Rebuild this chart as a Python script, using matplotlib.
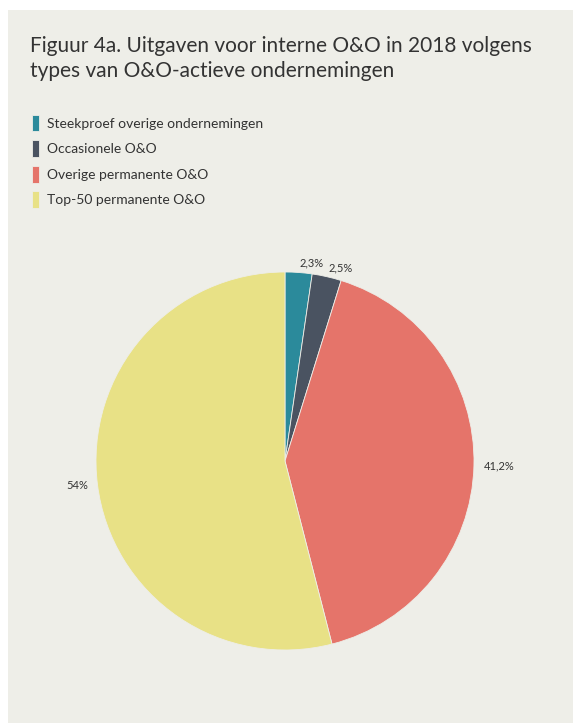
import matplotlib
matplotlib.use("Agg")
from matplotlib import pyplot as plt
from matplotlib.patches import Rectangle

plt.rcParams['font.family'] = ['Lato', 'DejaVu Sans']

# data
categories = ['Steekproef overige ondernemingen', 'Occasionele O&O',
              'Overige permanente O&O', 'Top-50 permanente O&O']
shares = [2.3, 2.5, 41.2, 54.0]
share_labels = ['2,3%', '2,5%', '41,2%', '54%']
colors = ['#2b8a9b', '#4a5361', '#e5746a', '#e8e186']

W, H = 573, 723
fig = plt.figure(figsize=(W / 100, H / 100), dpi=100, facecolor='white')

# light panel behind everything
fig.patches.append(Rectangle((8 / W, 0), 1, 1 - 10 / H, transform=fig.transFigure,
                             facecolor='#eeeee8', edgecolor='none', zorder=-10))

fig.text(30 / W, 1 - 36 / H,
         'Figuur 4a. Uitgaven voor interne O&O in 2018 volgens\ntypes van O&O-actieve ondernemingen',
         fontsize=15, color='#333333', va='top', ha='left', linespacing=1.3)

# pie
cx, cy, r = 285, 461, 189
ax = fig.add_axes([(cx - r) / W, (H - cy - r) / H, 2 * r / W, 2 * r / H])
ax.set_zorder(5)
wedges, texts = ax.pie(shares, labels=share_labels, colors=colors, startangle=90,
                       counterclock=False, labeldistance=1.05,
                       wedgeprops=dict(linewidth=0.6, edgecolor='#eeeee8'),
                       textprops=dict(fontsize=8, color='#333333'))
ax.set_xlim(-1, 1)
ax.set_ylim(-1, 1)
ax.set_aspect('equal')
ax.axis('off')

fig.legend(wedges, categories, loc='upper left', bbox_to_anchor=(19 / W, 1 - 102 / H),
           frameon=False, fontsize=10, handlelength=0.55, handleheight=1.5,
           handletextpad=0.6, labelspacing=0.62, labelcolor='#333333')

fig.savefig('out.png', dpi=100, facecolor=fig.get_facecolor())
